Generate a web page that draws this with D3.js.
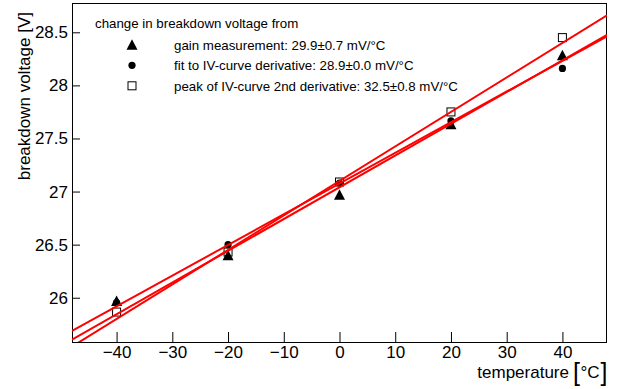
<!DOCTYPE html>
<html>
<head>
<meta charset="utf-8">
<script src="https://cdn.jsdelivr.net/npm/d3@7"></script>
<style>
  html, body { margin: 0; padding: 0; background: #fff; }
  svg { display: block; font-family: "Liberation Sans", Arial, Helvetica, sans-serif; }
</style>
</head>
<body>
<svg id="chart" width="620" height="389"></svg>
<script>
// ---- data ----
const temperatures = [-40, -20, 0, 20, 40];
const gainVoltage   = [25.97, 26.40, 26.97, 27.635, 28.285];
const ivFitVoltage  = [25.955, 26.50, 27.08, 27.665, 28.16];
const ivPeakVoltage = [25.865, 26.43, 27.09, 27.75, 28.45];

const seriesNames = [
  "gain measurement: 29.9\u00B10.7 mV/\u00B0C",
  "fit to IV-curve derivative: 28.9\u00B10.0 mV/\u00B0C",
  "peak of IV-curve 2nd derivative: 32.5\u00B10.8 mV/\u00B0C"
];
const seriesMarkers = ["triangle", "circle", "square"];
// linear fit parameters (V at 0 °C, V per °C)
const fitIntercept = [27.04, 27.075, 27.10];
const fitSlope     = [0.0299, 0.0289, 0.0325];

const xMajorTicks = [-40, -30, -20, -10, 0, 10, 20, 30, 40];
const yMajorTicks = [26, 26.5, 27, 27.5, 28, 28.5];
const legendHeader = "change in breakdown voltage from";
const xTitle = "temperature";
const xUnit = "\u00B0C";
const yTitle = "breakdown voltage [V]";

// ---- layout ----
const svg = d3.select("#chart");
const L = 72, R = 607, T = 3, B = 342;
const x = d3.scaleLinear().domain([-48, 48]).range([L, R]);
const y = d3.scaleLinear().domain([25.583, 28.776]).range([B, T]);

const seriesValues = [gainVoltage, ivFitVoltage, ivPeakVoltage];

// minor ticks
const xMinor = d3.range(-46, 47, 2).filter(v => v % 10 !== 0);
const yMinor = d3.range(256, 288, 1).map(v => v / 10).filter(v => Math.abs(v * 2 - Math.round(v * 2)) > 1e-6);

const gx = svg.append("g").attr("transform", `translate(0,${B})`);
gx.call(d3.axisBottom(x).tickValues(xMinor).tickSize(-5).tickFormat(() => ""));
gx.call(d3.axisBottom(x).tickValues(xMajorTicks).tickSize(-10).tickPadding(4)
  .tickFormat(d => d < 0 ? "\u2212" + Math.abs(d) : String(d)));
gx.selectAll(".domain").remove();

const gy = svg.append("g").attr("transform", `translate(${L},0)`);
gy.call(d3.axisLeft(y).tickValues(yMinor).tickSize(-4).tickFormat(() => ""));
gy.call(d3.axisLeft(y).tickValues(yMajorTicks).tickSize(-8).tickPadding(4)
  .tickFormat(d => String(d)));
gy.selectAll(".domain").remove();

svg.selectAll(".tick line").attr("stroke", "#000").attr("stroke-width", 1);
svg.selectAll(".tick text").attr("font-size", 17).attr("fill", "#000")
  .attr("font-family", "Liberation Sans, Arial, sans-serif");

// frame
svg.append("rect").attr("x", L + 0.5).attr("y", T + 0.5)
  .attr("width", R - L - 1).attr("height", B - T)
  .attr("fill", "none").attr("stroke", "#000").attr("stroke-width", 1);

// clip
svg.append("clipPath").attr("id", "clip").append("rect")
  .attr("x", L).attr("y", T).attr("width", R - L).attr("height", B - T);

// markers
function drawMarker(g, type, cx, cy) {
  if (type === "triangle") {
    g.append("path")
      .attr("d", `M${cx - 5.5},${cy + 5} L${cx + 5.5},${cy + 5} L${cx},${cy - 5.5} Z`)
      .attr("fill", "#000");
  } else if (type === "circle") {
    g.append("circle").attr("cx", cx).attr("cy", cy).attr("r", 3.6).attr("fill", "#000");
  } else {
    g.append("rect").attr("x", cx - 4).attr("y", cy - 4).attr("width", 8).attr("height", 8)
      .attr("fill", "none").attr("stroke", "#000").attr("stroke-width", 1);
  }
}

const plot = svg.append("g").attr("clip-path", "url(#clip)");
seriesValues.forEach((vals, i) => {
  const g = plot.append("g");
  vals.forEach((v, j) => drawMarker(g, seriesMarkers[i], x(temperatures[j]), y(v)));
});

// fit lines
const line = d3.line().x(d => x(d[0])).y(d => y(d[1]));
fitIntercept.forEach((a, i) => {
  const pts = x.domain().map(t => [t, a + fitSlope[i] * t]);
  plot.append("path").attr("d", line(pts)).attr("fill", "none")
    .attr("stroke", "#ff0000").attr("stroke-width", 2);
});

// legend
const leg = svg.append("g").attr("font-size", 13.3).attr("fill", "#000");
leg.append("text").attr("x", 95).attr("y", 28).text(legendHeader);
const rowY = [49.5, 70, 90.5];
seriesNames.forEach((name, i) => {
  drawMarker(leg, seriesMarkers[i], 132, rowY[i] - 4.7);
  leg.append("text").attr("x", 174).attr("y", rowY[i]).text(name);
});

// axis titles
const tg = svg.append("g").attr("fill", "#000");
tg.append("text").attr("x", 569).attr("y", 378).attr("text-anchor", "end")
  .attr("font-size", 17).text(xTitle);
tg.append("text").attr("x", 573).attr("y", 381).attr("font-size", 25)
  .attr("font-weight", 300).text("[");
tg.append("text").attr("x", 580.5).attr("y", 378).attr("font-size", 17).text(xUnit);
tg.append("text").attr("x", 600.5).attr("y", 381).attr("font-size", 25)
  .attr("font-weight", 300).text("]");

svg.append("text").attr("transform", "translate(30,12) rotate(-90)")
  .attr("text-anchor", "end").attr("font-size", 17).attr("fill", "#000").text(yTitle);
</script>
</body>
</html>
